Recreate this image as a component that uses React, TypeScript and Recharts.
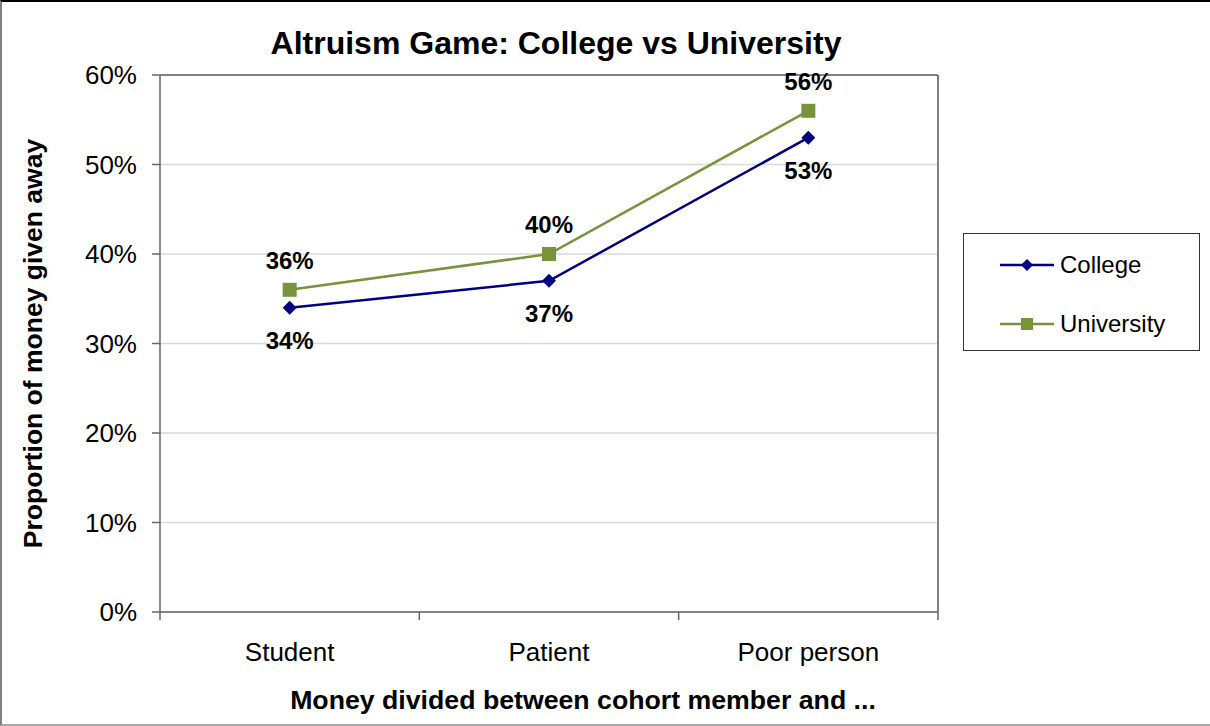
import React from 'react';
import { LineChart, Line, XAxis, YAxis, CartesianGrid, ReferenceLine, LabelList } from 'recharts';

const categories = ['Student', 'Patient', 'Poor person'];
const collegeValues = [34, 37, 53];
const universityValues = [36, 40, 56];
const yTicks = [0, 10, 20, 30, 40, 50, 60];

const NAVY = '#000080';
const OLIVE = '#77933C';
const FONT = '"Liberation Sans", Arial, sans-serif';

const data = categories.map((name, i) => ({
  x: i + 0.5,
  name,
  college: collegeValues[i],
  university: universityValues[i],
}));

// ticks at band edges (integers) and centers (halves)
const xTicks = [0, 0.5, 1, 1.5, 2, 2.5, 3];

const Diamond = (props: any) => {
  const { cx, cy, fill } = props;
  if (cx == null || cy == null) return null;
  const r = 7;
  return <path d={`M${cx},${cy - r}L${cx + r},${cy}L${cx},${cy + r}L${cx - r},${cy}Z`} fill={fill} />;
};

const Square = (props: any) => {
  const { cx, cy, fill } = props;
  if (cx == null || cy == null) return null;
  const s = 7;
  return <rect x={cx - s} y={cy - s} width={s * 2} height={s * 2} fill={fill} />;
};

const XTick = (props: any) => {
  const { x, y, payload } = props;
  const v = payload.value;
  if (Number.isInteger(v)) {
    return <line x1={x} x2={x} y1={y - 8} y2={y} stroke="#666" strokeWidth={1.5} />;
  }
  const label = categories[Math.floor(v)];
  return (
    <text x={x} y={y + 41} textAnchor="middle" fontSize={26} fontFamily={FONT} fill="#000">
      {label}
    </text>
  );
};

const series = [
  { key: 'college', name: 'College', color: NAVY, shape: 'diamond' },
  { key: 'university', name: 'University', color: OLIVE, shape: 'square' },
];

const LegendBox = () => (
  <div
    style={{
      position: 'absolute',
      left: 963,
      top: 233,
      width: 237,
      height: 118,
      boxSizing: 'border-box',
      border: '1.5px solid #333',
      background: '#fff',
      fontFamily: FONT,
      fontSize: 24,
    }}
  >
    {series.map((s, i) => (
      <div
        key={s.key}
        style={{ position: 'absolute', left: 36, top: 16 + i * 59, height: 30, display: 'flex', alignItems: 'center' }}
      >
        <svg width={54} height={20} style={{ marginRight: 6 }}>
          <line x1={0} x2={54} y1={10} y2={10} stroke={s.color} strokeWidth={2.5} />
          {s.shape === 'diamond' ? (
            <path d="M27,4L33,10L27,16L21,10Z" fill={s.color} />
          ) : (
            <rect x={21} y={4} width={12} height={12} fill={s.color} />
          )}
        </svg>
        <span>{s.name}</span>
      </div>
    ))}
  </div>
);

export default function App() {
  return (
    <div style={{ position: 'absolute', left: 0, top: 0, width: 1210, height: 726, background: '#fff', fontFamily: FONT }}>
      <LineChart width={1210} height={726} data={data} margin={{ top: 75, right: 272, bottom: 0, left: 0 }}>
        <CartesianGrid vertical={false} stroke="#d9d9d9" strokeWidth={1.5} />
        <XAxis
          dataKey="x"
          type="number"
          domain={[0, 3]}
          ticks={xTicks}
          interval={0}
          height={114}
          tickLine={false}
          tickSize={8}
          tickMargin={0}
          axisLine={{ stroke: '#666', strokeWidth: 1.5 }}
          tick={<XTick />}
          label={{
            value: 'Money divided between cohort member and ...',
            position: 'insideBottom',
            offset: 17,
            dx: 34,
            style: { fontSize: 26.7, fontWeight: 'bold', fill: '#000', fontFamily: FONT },
          }}
        />
        <YAxis
          domain={[0, 60]}
          ticks={yTicks}
          width={160}
          tickSize={8}
          tickMargin={15}
          tickLine={{ stroke: '#666', strokeWidth: 1.5 }}
          axisLine={{ stroke: '#666', strokeWidth: 1.5 }}
          tickFormatter={(v: number) => `${v}%`}
          tick={{ fontSize: 26, fill: '#000', fontFamily: FONT }}
          label={{
            value: 'Proportion of money given away',
            angle: -90,
            position: 'center',
            dx: -47,
            style: { fontSize: 26.5, fontWeight: 'bold', fill: '#000', fontFamily: FONT, textAnchor: 'middle' },
          }}
        />
        <ReferenceLine y={60} stroke="#808080" strokeWidth={2} />
        <ReferenceLine x={3} stroke="#808080" strokeWidth={2} />
        <Line
          dataKey="college"
          name="College"
          stroke={NAVY}
          strokeWidth={2.5}
          dot={<Diamond fill={NAVY} />}
          activeDot={false}
          isAnimationActive={false}
        >
          <LabelList
            dataKey="college"
            position="bottom"
            offset={24}
            formatter={(v: any) => `${v}%`}
            style={{ fontSize: 24, fontWeight: 'bold', fill: '#000', fontFamily: FONT }}
          />
        </Line>
        <Line
          dataKey="university"
          name="University"
          stroke={OLIVE}
          strokeWidth={2.5}
          dot={<Square fill={OLIVE} />}
          activeDot={false}
          isAnimationActive={false}
        >
          <LabelList
            dataKey="university"
            position="top"
            offset={21}
            formatter={(v: any) => `${v}%`}
            style={{ fontSize: 24, fontWeight: 'bold', fill: '#000', fontFamily: FONT }}
          />
        </Line>
      </LineChart>
      <div
        style={{
          position: 'absolute',
          left: 0,
          top: 20,
          textAlign: 'center',
          width: 1112,
          fontSize: 32,
          fontWeight: 'bold',
          lineHeight: '46px',
        }}
      >
        Altruism Game: College vs University
      </div>
      <LegendBox />
      <div
        style={{
          position: 'absolute',
          inset: 0,
          boxSizing: 'border-box',
          borderTop: '2px solid #000',
          borderLeft: '2px solid #808080',
          borderBottom: '2px solid #a6a6a6',
          pointerEvents: 'none',
        }}
      />
    </div>
  );
}
